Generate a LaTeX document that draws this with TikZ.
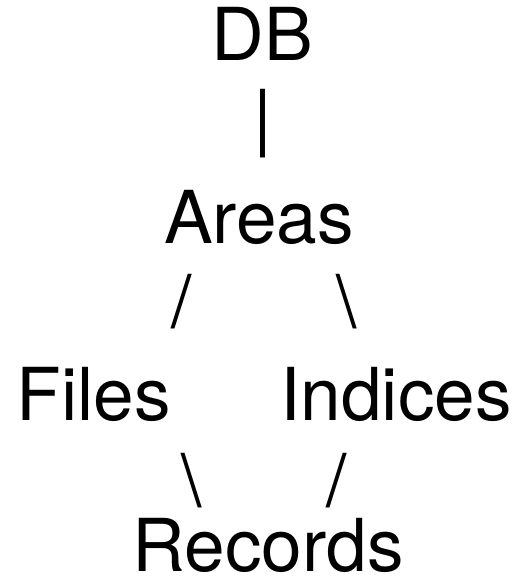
\documentclass[tikz,border=0pt]{standalone}
\usepackage{fontspec}
\setmainfont{TeX Gyre Heros}
\begin{document}
\begin{tikzpicture}[x=1pt,y=1pt,
  word/.style={inner sep=0pt,anchor=base,font=\fontsize{73}{88}\selectfont},
  glyph/.style={inner sep=0pt,anchor=center,font=\fontsize{73}{88}\selectfont}]
\useasboundingbox (0,0) rectangle (516,-577);
\node[word] (db) at (262,-61) {DB};
\node[glyph] (bar) at (263,-124) {|};
\node[word] (areas) at (259,-243) {Areas};
\node[glyph] (s1) at (182,-302) {/};
\node[glyph] (s2) at (347,-302) {\textbackslash};
\node[word] (files) at (94,-420) {Files};
\node[word] (indices) at (396,-420) {Indices};
\node[glyph] (s3) at (192,-481) {\textbackslash};
\node[glyph] (s4) at (337,-481) {/};
\node[word] (records) at (268,-571) {Records};
\end{tikzpicture}
\end{document}
